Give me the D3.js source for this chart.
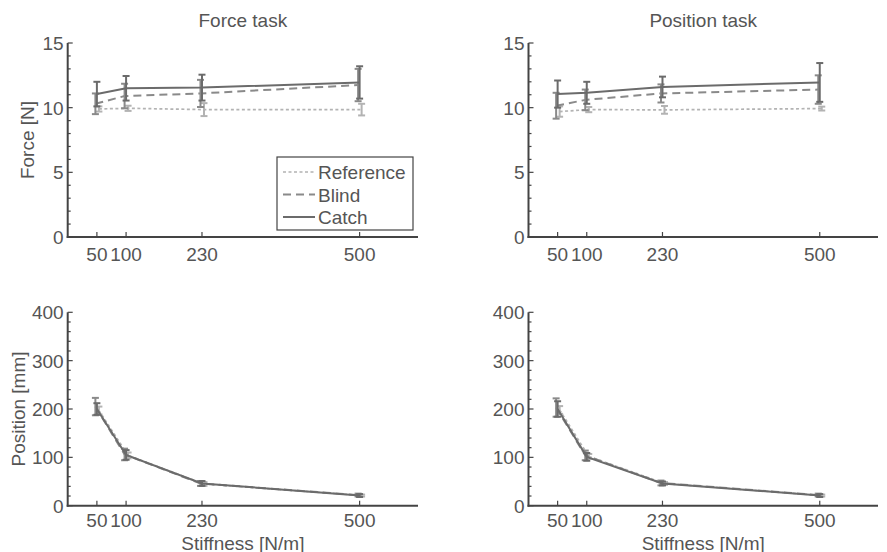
<!DOCTYPE html>
<html lang="en">
<head>
    <meta charset="UTF-8">
    <title>Force / Position task</title>
    <script src="https://d3js.org/d3.v7.min.js"></script>
    <style>
        body {
            margin: 0;
            background: #fff;
            font-family: Arial, "Liberation Sans", sans-serif;
        }
        .tick-label, .axis-label, .title, .legend-text {
            fill: #555;
            font-size: 19px;
        }
    </style>
</head>
<body>
<svg id="chart"></svg>
<script>
    // Данные
    const stiffness = [50, 100, 230, 500];
    const conditions = ["Reference", "Blind", "Catch"];

    // Force task -- force [N], rows: Reference, Blind, Catch
    const forceTaskForce = [[9.9, 9.95, 9.85, 9.85], [10.3, 10.9, 11.1, 11.75], [11.05, 11.5, 11.55, 11.95]];
    const forceTaskForceErr = [[0.2, 0.2, 0.5, 0.45], [0.8, 0.95, 1.05, 1.25], [0.95, 0.95, 1.0, 1.25]];
    // Position task -- force [N]
    const posTaskForce = [[9.7, 9.85, 9.83, 9.93], [10.15, 10.6, 11.1, 11.4], [11.05, 11.15, 11.6, 11.95]];
    const posTaskForceErr = [[0.4, 0.2, 0.3, 0.15], [1.0, 0.8, 0.7, 1.1], [1.05, 0.85, 0.8, 1.5]];
    // Force task -- position [mm]
    const forceTaskPos = [[197, 104, 45, 21], [205, 106, 46, 22], [200, 105, 46, 21]];
    const forceTaskPosErr = [[8, 6, 4, 2], [18, 12, 5, 3], [12, 10, 5, 3]];
    // Position task -- position [mm]
    const posTaskPos = [[198, 102, 46, 21], [203, 104, 47, 22], [200, 101, 46, 21]];
    const posTaskPosErr = [[8, 5, 3, 2], [19, 10, 5, 3], [16, 8, 4, 3]];

    const forceTicks = [0, 5, 10, 15];
    const posTicks = [0, 100, 200, 300, 400];

    // Стили серий
    const styles = [
        { color: "#b3b3b3", width: 1.7, dash: "3,2.5", dx: 2 },
        { color: "#8a8a8a", width: 2, dash: "8,5", dx: -1.5 },
        { color: "#6b6b6b", width: 2, dash: null, dx: 0 }
    ];

    const width = 887;
    const height = 552;
    const svg = d3.select("#chart").attr("width", width).attr("height", height);

    function drawPanel(opt) {
        const x = d3.scaleLinear().domain([0, 600]).range([opt.left, opt.right]);
        const y = d3.scaleLinear().domain([0, opt.yMax]).range([opt.bottom, opt.top]);
        const g = svg.append("g");

        // Оси
        const axis = g.append("g").attr("stroke", "#444").attr("stroke-width", 2);
        axis.append("line")
            .attr("x1", x(0)).attr("x2", x(0))
            .attr("y1", y(0) + 1).attr("y2", y(opt.yMax));
        axis.append("line")
            .attr("x1", x(0) - 1).attr("x2", x(600))
            .attr("y1", y(0)).attr("y2", y(0));

        // Мелкие деления на оси Y
        axis.selectAll(".minor")
            .data(d3.range(0, opt.yMax + 1e-9, opt.minor))
            .join("line")
            .attr("stroke-width", 1.2)
            .attr("x1", x(0)).attr("x2", d => opt.yTicks.includes(d) ? x(0) + 5 : x(0) + 3)
            .attr("y1", d => y(d)).attr("y2", d => y(d));

        g.selectAll(".ytl")
            .data(opt.yTicks)
            .join("text")
            .attr("class", "tick-label")
            .attr("x", x(0) - 4)
            .attr("y", d => y(d) + 7)
            .attr("text-anchor", "end")
            .text(d => d);

        // Деления на оси X
        axis.selectAll(".xt")
            .data(stiffness)
            .join("line")
            .attr("stroke-width", 1.2)
            .attr("x1", d => x(d)).attr("x2", d => x(d))
            .attr("y1", y(0)).attr("y2", y(0) - 5);

        g.selectAll(".xtl")
            .data(stiffness)
            .join("text")
            .attr("class", "tick-label")
            .attr("x", d => x(d))
            .attr("y", y(0) + opt.xTickDy)
            .attr("text-anchor", "middle")
            .text(d => d);

        // Серии: линии и error bars
        const line = d3.line();
        opt.means.forEach((row, i) => {
            const st = styles[i];
            const pts = row.map((v, j) => [x(stiffness[j]) + st.dx, y(v)]);
            g.append("path")
                .attr("d", line(pts))
                .attr("fill", "none")
                .attr("stroke", st.color)
                .attr("stroke-width", st.width)
                .attr("stroke-dasharray", st.dash);

            const eb = g.append("g").attr("stroke", st.color).attr("stroke-width", 2);
            row.forEach((v, j) => {
                const cx = x(stiffness[j]) + st.dx;
                const e = opt.errs[i][j];
                eb.append("line").attr("x1", cx).attr("x2", cx).attr("y1", y(v - e)).attr("y2", y(v + e));
                eb.append("line").attr("x1", cx - 3.5).attr("x2", cx + 3.5).attr("y1", y(v - e)).attr("y2", y(v - e));
                eb.append("line").attr("x1", cx - 3.5).attr("x2", cx + 3.5).attr("y1", y(v + e)).attr("y2", y(v + e));
            });
        });

        if (opt.title) {
            g.append("text")
                .attr("class", "title")
                .attr("x", (opt.left + opt.right) / 2)
                .attr("y", 27)
                .attr("text-anchor", "middle")
                .text(opt.title);
        }
        if (opt.yLabel) {
            g.append("text")
                .attr("class", "axis-label")
                .attr("transform", `translate(${opt.yLabelX},${(opt.top + opt.bottom) / 2}) rotate(-90)`)
                .attr("text-anchor", "middle")
                .text(opt.yLabel);
        }
        if (opt.xLabel) {
            g.append("text")
                .attr("class", "axis-label")
                .attr("x", (opt.left + opt.right) / 2)
                .attr("y", 549.5)
                .attr("text-anchor", "middle")
                .text(opt.xLabel);
        }
        if (opt.legend) {
            const lg = g.append("g");
            lg.append("rect")
                .attr("x", 277).attr("y", 157)
                .attr("width", 136).attr("height", 73)
                .attr("fill", "#fff")
                .attr("stroke", "#444")
                .attr("stroke-width", 1.2);
            conditions.forEach((c, i) => {
                const st = styles[i];
                const ly = 172 + i * 22.5;
                lg.append("line")
                    .attr("x1", 283).attr("x2", 315)
                    .attr("y1", ly).attr("y2", ly)
                    .attr("stroke", st.color)
                    .attr("stroke-width", st.width)
                    .attr("stroke-dasharray", st.dash);
                lg.append("text")
                    .attr("class", "legend-text")
                    .attr("x", 318)
                    .attr("y", ly + 7)
                    .text(c);
            });
        }
    }

    drawPanel({ left: 67.7, right: 418, top: 43, bottom: 237, yMax: 15, minor: 1, yTicks: forceTicks, xTickDy: 23.5,
        means: forceTaskForce, errs: forceTaskForceErr, title: "Force task", yLabel: "Force [N]", yLabelX: 34, legend: true });
    drawPanel({ left: 528.5, right: 878, top: 43, bottom: 237, yMax: 15, minor: 1, yTicks: forceTicks, xTickDy: 23.5,
        means: posTaskForce, errs: posTaskForceErr, title: "Position task" });
    drawPanel({ left: 67.7, right: 418, top: 312.3, bottom: 505.7, yMax: 400, minor: 20, yTicks: posTicks, xTickDy: 21.5,
        means: forceTaskPos, errs: forceTaskPosErr, yLabel: "Position [mm]", yLabelX: 25, xLabel: "Stiffness [N/m]" });
    drawPanel({ left: 528.5, right: 878, top: 312.3, bottom: 505.7, yMax: 400, minor: 20, yTicks: posTicks, xTickDy: 21.5,
        means: posTaskPos, errs: posTaskPosErr, xLabel: "Stiffness [N/m]" });
</script>
</body>
</html>
